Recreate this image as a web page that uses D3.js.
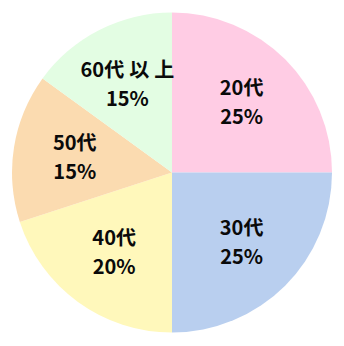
<!DOCTYPE html>
<html>
<head>
<meta charset="utf-8">
<script src="https://cdn.jsdelivr.net/npm/d3@7"></script>
<style>
  html, body { margin: 0; padding: 0; background: #fff; }
  svg { display: block; }
  .label { font-family: "Noto Sans CJK JP", "Noto Sans", sans-serif; font-weight: bold; font-size: 20px; fill: #0a0a0a; }
</style>
</head>
<body>
<svg id="chart" width="344" height="346"></svg>
<script>
// age groups, share (%), slice colours
const categories = ['20代', '30代', '40代', '50代', '60代以上'];
const values = [25, 25, 20, 15, 15];
const colors = ['#ffcce4', '#b9cfef', '#fff8bb', '#fbdbb0', '#e3fde3'];

const width = 344, height = 346;
const cx = 172, cy = 172.5, radius = 160;
const lineGap = 29;

const data = categories.map((c, i) => ({ name: c, value: values[i], color: colors[i] }));

const svg = d3.select('#chart');
const g = svg.append('g').attr('transform', `translate(${cx},${cy})`);

const pie = d3.pie().sort(null).value(d => d.value);
const arc = d3.arc().innerRadius(0).outerRadius(radius);
const labelArc = d3.arc().innerRadius(radius * 0.615).outerRadius(radius * 0.615);

const arcs = pie(data);

g.selectAll('path.slice')
    .data(arcs)
  .enter().append('path')
    .attr('class', 'slice')
    .attr('d', arc)
    .attr('fill', d => d.data.color);

const labels = g.selectAll('text.label')
    .data(arcs)
  .enter().append('text')
    .attr('class', 'label')
    .attr('text-anchor', 'middle')
    .attr('transform', d => {
      const [x, y] = labelArc.centroid(d);
      return `translate(${x},${y})`;
    });

// first line: category name, with a little air between the kanji
labels.append('tspan')
    .attr('x', 0)
    .attr('y', -lineGap / 2 + 7)
    .each(function(d) {
      const t = d3.select(this);
      const chars = Array.from(d.data.name);
      chars.forEach((ch, i) => {
        const wide = i > 0 && chars[i - 1].charCodeAt(0) > 255 && ch.charCodeAt(0) > 255;
        t.append('tspan').attr('dx', wide ? 5 : 0).text(ch);
      });
    });
labels.append('tspan')
    .attr('x', 0)
    .attr('y', lineGap / 2 + 7)
    .text(d => d.data.value + '%');
</script>
</body>
</html>
